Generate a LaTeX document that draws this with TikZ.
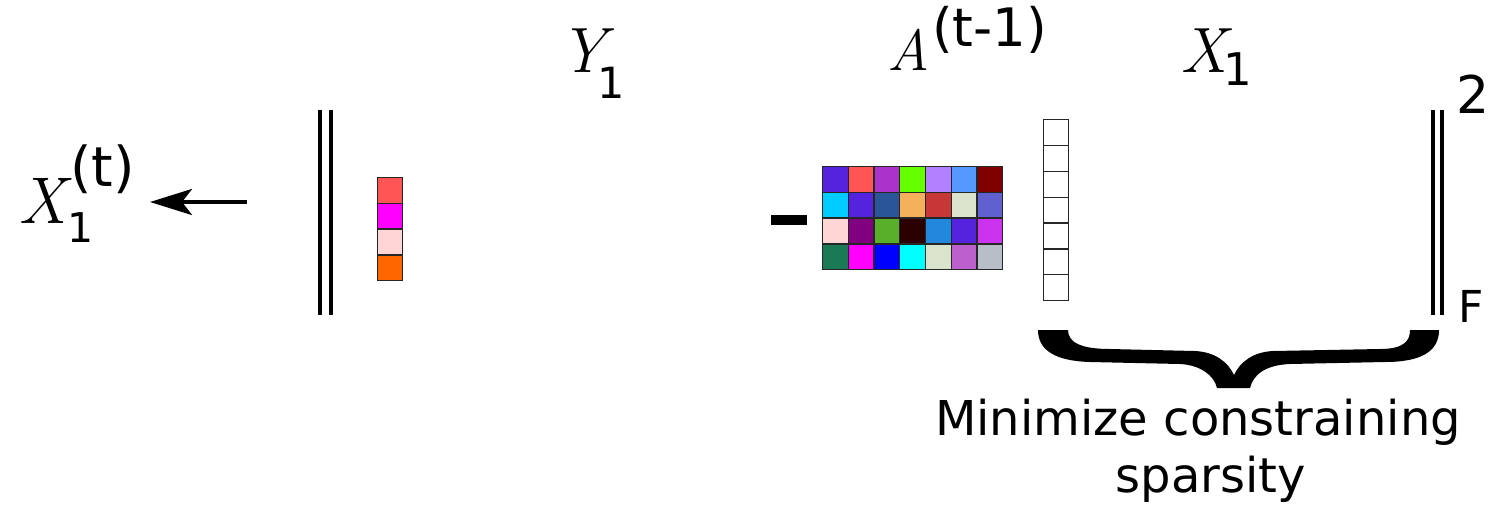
\documentclass[tikz,border=0pt]{standalone}
\usepackage{fontspec}
\usetikzlibrary{arrows.meta}
\newfontfamily\dv{DejaVu Sans}
\newcommand{\fsz}[1]{\fontsize{#1}{#1}\selectfont}
\begin{document}
\begin{tikzpicture}[x=1pt,y=-1pt,
  cell/.style={draw=black!85,line width=1.3pt,minimum width=25.7pt,minimum height=25.7pt,inner sep=0pt,anchor=north west},
  bar/.style={line width=4.5pt},
  lab/.style={inner sep=0pt,anchor=base west},
  mlab/.style={lab,font=\itshape\fsz{#1}},
  slab/.style={lab,font=\dv\fsz{#1}}]
\useasboundingbox (0,0) rectangle (1493,509);
% left label X_1^(t)
\node[mlab=66] (Xt) at (18,223) {X};
\node[slab=41] (Xtsub) at (67,242) {1};
\node[slab=55] (Xtsup) at (70,186) {(t)};
% arrow
\coordinate (arrtail) at (247,202);
\coordinate (arrhead) at (150,202);
\draw[line width=4pt,-{Stealth[length=42pt,width=26pt,inset=10pt]}] (arrtail) -- (arrhead);
% left norm bars
\draw[bar] (320,110) -- (320,315);
\draw[bar] (331,110) -- (331,315);
% Y column
\foreach \col [count=\k from 0] in {FF5555,FF00FF,FFD5D5,FF6600}{
  \definecolor{tmp}{HTML}{\col}
  \node[cell,fill=tmp,minimum width=25pt] (Y-\k) at (377,{177+\k*25.75}) {};
}
% Y_1 label
\node[mlab=64] (Ylab) at (559,72) {Y};
\node[slab=43] (Ysub) at (597,98) {1};
% minus
\node[fill=black,minimum width=36pt,minimum height=10pt,inner sep=0pt] (minus) at (788.5,220) {};
% A matrix
\def\Acolors{5522DD,FF5555,AA33CC,66FF00,B380FF,5599FF,800000,00CCFF,5522DD,2A5599,F4B05A,C83737,DAE4CC,6060D0,FFD5D5,800080,5AAF2A,2B0000,2288DD,5522DD,CC33EE,1A7A55,FF00FF,0000FF,00FFFF,DAE4CC,BB60CC,B8BEC8}
\foreach \col [count=\k from 0] in \Acolors{
  \pgfmathtruncatemacro\r{div(\k,7)}
  \pgfmathtruncatemacro\c{mod(\k,7)}
  \definecolor{tmp}{HTML}{\col}
  \node[cell,fill=tmp] (A-\r-\c) at ({822+\c*25.7},{166+\r*25.75}) {};
}
% A label
\node[mlab=58] (Alab) at (887,70) {A};
\node[slab=53] (Asup) at (932,46) {(t-1)};
% X column
\foreach \k in {0,...,6}{
  \node[cell,fill=white,minimum width=25.5pt,minimum height=25.86pt] (X-\k) at (1042.5,{119+\k*25.86}) {};
}
% X_1 label
\node[mlab=64] (Xlab) at (1180,72) {X};
\node[slab=45] (Xsub) at (1223,85) {1};
% right norm bars
\draw[bar] (1433,110) -- (1433,315);
\draw[bar] (1442,110) -- (1442,315);
\node[slab=52] (two) at (1456,113) {2};
\node[slab=44] (F) at (1458,322) {F};
% brace
\fill[black] (1038,330) -- (1068,330)
  .. controls (1068,342) and (1080,349) .. (1110,349)
  -- (1195,351)
  .. controls (1215,352) and (1228,362) .. (1234,375)
  .. controls (1240,362) and (1253,352) .. (1273,351)
  -- (1380,349)
  .. controls (1405,349) and (1410,340) .. (1410,330)
  -- (1439,330)
  .. controls (1439,352) and (1420,362) .. (1385,362)
  -- (1290,364)
  .. controls (1265,365) and (1253,375) .. (1250,388)
  -- (1217,388)
  .. controls (1214,375) and (1200,365) .. (1180,364)
  -- (1090,362)
  .. controls (1055,361) and (1038,350) .. (1038,330) -- cycle;
% caption
\node[inner sep=0pt,anchor=base,font=\dv\fsz{48}] (cap1) at (1198,435) {Minimize constraining};
\node[inner sep=0pt,anchor=base,font=\dv\fsz{48}] (cap2) at (1211,492) {sparsity};
\end{tikzpicture}
\end{document}
